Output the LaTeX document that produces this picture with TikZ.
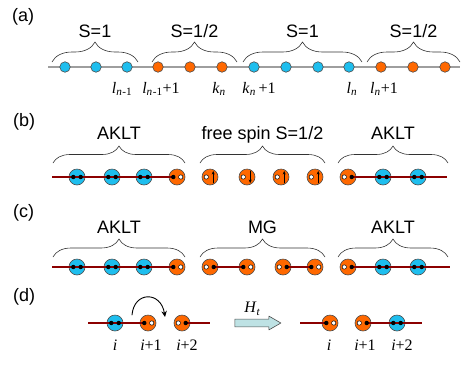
\documentclass[tikz,border=0pt]{standalone}
\usepackage{fontspec}
\setmainfont{Liberation Serif}
\setsansfont{Liberation Sans}
\usetikzlibrary{positioning,decorations.pathreplacing,shapes.arrows,arrows.meta}
\definecolor{spinone}{RGB}{30,190,238}
\definecolor{spinhalf}{RGB}{255,104,0}
\definecolor{bond}{RGB}{140,0,0}
\definecolor{harrow}{RGB}{190,226,228}
\newcommand{\lsub}[2]{\textit{#1}\textsubscript{\textit{#2}}}
\begin{document}
\begin{tikzpicture}[x=1pt,y=-1pt,line join=round,line cap=round,>=stealth,
	site/.style={circle,draw=black!70,line width=.6pt,minimum size=16pt,inner sep=0pt},
	one/.style={site,fill=spinone}, half/.style={site,fill=spinhalf},
	small/.style={minimum size=10.5pt},
	bk/.style={circle,fill=black,minimum size=4.4pt,inner sep=0pt},
	wh/.style={circle,fill=white,draw=black,line width=.5pt,minimum size=4.4pt,inner sep=0pt},
	valence/.style={draw=bond,line width=2pt,line cap=butt},
	chain/.style={draw=black!38,line width=1.8pt,line cap=butt},
	spin/.style={-{Stealth[length=3.5pt,width=3pt]},line width=.8pt},
	brc/.style={decorate,decoration={brace,amplitude=#1},black!80,line width=.6pt},
	ttl/.style={font=\sffamily\fontsize{18}{20}\selectfont,anchor=base,inner sep=0pt},
	lab/.style={font=\fontsize{16}{18}\selectfont,anchor=base,inner sep=0pt},
	pnl/.style={font=\sffamily\fontsize{18}{20}\selectfont,anchor=base west,inner sep=0pt}]
	\useasboundingbox (0,0) rectangle (474,365);
	\def\dx{3.7pt}
	% (a)
	\node[pnl] (pa) at (12,21) {(a)};
	\coordinate (a0) at (48,67); \coordinate (a14) at (460,67);
	\draw[chain] (a0)--(a14);
	\foreach \x/\c [count=\i] in {65/one,96/one,127/one,158/half,190/half,222/half,254/one,286/one,318/one,349/one,381/half,413/half,445/half}
		\node[\c,small] (a\i) at (\x,67) {};
	\foreach \l/\r/\t [count=\i] in {52/138/{S=1},152/237/{S=1/2},243/362/{S=1},367/460/{S=1/2}}{
		\draw[brc=20pt] (\l,62)--(\r,62);
		\node[ttl] (at\i) at ({(\l+\r)/2},37) {\t};
	}
	\path (a3) ++(-5,26) node[lab] (la1) {\lsub{l}{n}\textsubscript{-1}};
	\path (a4) ++(3,26) node[lab] (la2) {\lsub{l}{n}\textsubscript{-1}+1};
	\path (a6) ++(-3,26) node[lab] (la3) {\lsub{k}{n}};
	\path (a7) ++(5,26) node[lab] (la4) {\lsub{k}{n}\,+1};
	\path (a10) ++(3,26) node[lab] (la5) {\lsub{l}{n}};
	\path (a11) ++(3,26) node[lab] (la6) {\lsub{l}{n}+1};
	% (b)
	\node[pnl] (pb) at (13,126) {(b)};
	\foreach \x/\c [count=\i] in {77/one,112/one,144/one,177/half,210/half,247/half,281/half,315/half,348/half,383/one,418/one}
		\node[\c] (b\i) at (\x,177) {};
	\coordinate (b0) at (52,177); \coordinate (b12) at (447,177);
	\draw[valence] (b0)--([xshift=-\dx]b4.center);
	\draw[valence] ([xshift=\dx]b9.center)--(b12);
	\foreach \i/\p/\q in {1/bk/bk,2/bk/bk,3/bk/bk,4/bk/wh,9/wh/bk,10/bk/bk,11/bk/bk}{
		\node[\p] (b\i l) at ([xshift=-\dx]b\i.center) {};
		\node[\q] (b\i r) at ([xshift=\dx]b\i.center) {};
	}
	\foreach \i/\ya/\yb in {5/-6/6,6/6/-6,7/-6/6,8/-6/6}{
		\node[wh] (b\i l) at ([xshift=-\dx]b\i.center) {};
		\draw[spin] ([xshift=3.2pt,yshift=\ya pt]b\i.center)--([xshift=3.2pt,yshift=\yb pt]b\i.center);
	}
	\foreach \l/\r/\t [count=\i] in {53/185/AKLT,200/325/{free spin S=1/2},338/448/AKLT}{
		\draw[brc=17pt] (\l,163)--(\r,163);
		\node[ttl] (bt\i) at ({(\l+\r)/2},139) {\t};
	}
	% (c)
	\node[pnl] (pc) at (13,217) {(c)};
	\foreach \x/\c [count=\i] in {77/one,112/one,144/one,177/half,210/half,247/half,283/half,315/half,348/half,383/one,418/one}
		\node[\c] (c\i) at (\x,267) {};
	\coordinate (c0) at (52,267); \coordinate (c12) at (450,267);
	\draw[valence] (c0)--([xshift=-\dx]c4.center);
	\draw[valence] ([xshift=\dx]c5.center)--([xshift=-\dx]c6.center);
	\draw[valence] ([xshift=\dx]c7.center)--([xshift=-\dx]c8.center);
	\draw[valence] ([xshift=\dx]c9.center)--(c12);
	\foreach \i/\p/\q in {1/bk/bk,2/bk/bk,3/bk/bk,4/bk/wh,5/wh/bk,6/bk/wh,7/wh/bk,8/bk/wh,9/wh/bk,10/bk/bk,11/bk/bk}{
		\node[\p] (c\i l) at ([xshift=-\dx]c\i.center) {};
		\node[\q] (c\i r) at ([xshift=\dx]c\i.center) {};
	}
	\foreach \l/\r/\t [count=\i] in {53/185/AKLT,200/325/MG,338/448/AKLT}{
		\draw[brc=18pt] (\l,257)--(\r,257);
		\node[ttl] (ct\i) at ({(\l+\r)/2},233) {\t};
	}
	% (d)
	\node[pnl] (pd) at (13,301) {(d)};
	\foreach \x/\c [count=\i] in {115/one,148/half,182/half}
		\node[\c] (d\i) at (\x,323) {};
	\foreach \x/\c [count=\i] in {330/half,363/half,397/one}
		\node[\c] (e\i) at (\x,323) {};
	\coordinate (d0) at (88,323); \coordinate (d4) at (210,323);
	\coordinate (e0) at (300,323); \coordinate (e4) at (422,323);
	\draw[valence] (d0)--([xshift=-\dx]d2.center);
	\draw[valence] ([xshift=\dx]d3.center)--(d4);
	\draw[valence] (e0)--([xshift=-\dx]e1.center);
	\draw[valence] ([xshift=\dx]e2.center)--(e4);
	\foreach \s/\p/\q in {d1/bk/bk,d2/bk/wh,d3/wh/bk,e1/bk/wh,e2/wh/bk,e3/bk/bk}{
		\node[\p] (\s l) at ([xshift=-\dx]\s.center) {};
		\node[\q] (\s r) at ([xshift=\dx]\s.center) {};
	}
	\foreach \s/\dd/\t in {d1/0/{},d2/3/{+1},d3/5/{+2},e1/-1/{},e2/2/{+1},e3/5/{+2}}
		\path (\s) ++(\dd,27) node[lab] (\s t) {\textit{i}\t};
	\coordinate (h1) at (132,315); \coordinate (h2) at (165,317);
	\draw[-{Stealth[length=6pt,width=5.5pt]},line width=.9pt] (h1) .. controls +(2,-24) and +(-4,-26) .. (h2);
	\node[single arrow,draw=black!70,fill=harrow,line width=.6pt,inner sep=3.6pt,
		minimum height=46pt,single arrow head extend=3pt,single arrow tip angle=60] (ht) at (254.5,323) {};
	\node[lab,anchor=south,above=3pt of ht,xshift=-2pt] (htl) {\lsub{H}{t}};
\end{tikzpicture}
\end{document}
